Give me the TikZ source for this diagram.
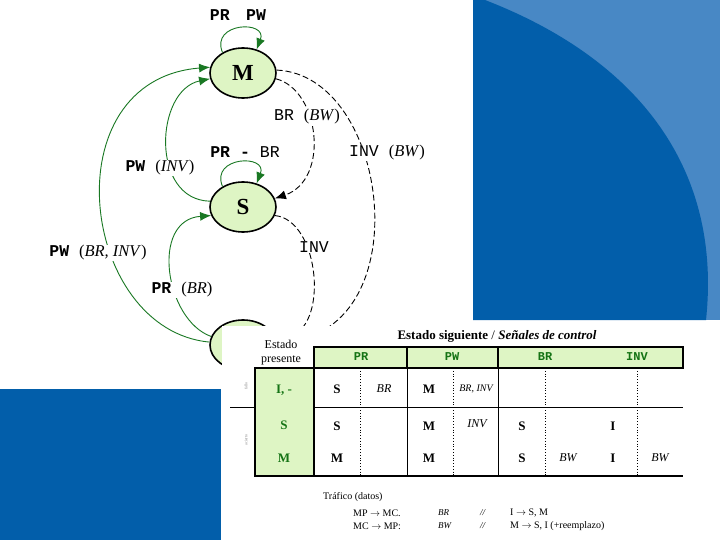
\documentclass[tikz,border=0pt]{standalone}
\usepackage{fontspec}
\setmainfont{Liberation Serif}
\setmonofont{Liberation Mono}
\usepackage{xcolor}
\usetikzlibrary{shapes.geometric, arrows.meta}
\definecolor{darkblue}{RGB}{2,94,170}
\definecolor{lightblue}{RGB}{72,136,197}
\definecolor{stategreen}{RGB}{222,245,196}
\definecolor{linegreen}{RGB}{25,120,35}
\definecolor{textgreen}{RGB}{20,115,20}

\begin{document}
\begin{tikzpicture}[x = 1pt, y = -1pt,
    state/.style = {ellipse, draw = black, line width = 1.6pt, fill = stategreen, minimum width = 66pt, minimum height = 50pt, inner sep = 0pt, font = \fontsize{23}{25}\selectfont\bfseries},
    grn/.style = {draw = linegreen, line width = 0.9pt, -{Latex[length = 11pt, width = 9pt]}},
    dsh/.style = {draw = black, line width = 0.9pt, dash pattern = on 6pt off 3pt, -{Latex[length = 11pt, width = 9pt]}},
    lbl/.style = {fill = white, inner sep = 1pt, font = \fontsize{16.5}{18}\selectfont},
    cell/.style = {inner sep = 0pt, font = \fontsize{13}{15}\selectfont\bfseries},
    sig/.style = {inner sep = 0pt, font = \fontsize{12}{14}\selectfont\itshape},
    head/.style = {inner sep = 0pt, text = textgreen, font = \fontsize{12}{14}\selectfont\ttfamily\bfseries},
    foot/.style = {anchor = west, inner sep = 0pt, font = \fontsize{10}{12}\selectfont}]
            \useasboundingbox (0,0) rectangle (720,540);
            \fill[white] (0,0) rectangle (720,540);
            \fill[lightblue] (473,0) rectangle (720,320);
            \fill[darkblue] (473,0) -- (485,0) .. controls (640,60) and (722,170) .. (706,320) -- (473,320) -- cycle;
            \fill[darkblue] (0,389) rectangle (221,540);
            \node[state] (M) at (243,73) {M};
            \node[state] (S) at (243,207) {S};
            \node[state] (I) at (243,345) {I};
            \draw[grn] (M.135) .. controls (210,22) and (268,20) .. (M.60);
            \draw[grn] (S.135) .. controls (210,156) and (268,154) .. (S.60);
            \draw[grn] (S.170) .. controls (150,200) and (155,90) .. (M.190);
            \draw[grn] (I.175) .. controls (80,330) and (50,80) .. (M.170);
            \draw[grn] (I.165) .. controls (165,320) and (150,220) .. (S.195);
            \draw[dsh] (M.-10) .. controls (320,90) and (330,180) .. (S.15);
            \draw[dsh] (M.5) .. controls (390,75) and (420,330) .. (I.5);
            \draw[dsh] (S.-15) .. controls (320,220) and (330,330) .. (I.10);
            \node[lbl] (lMM) at (238,15) {\ttfamily\bfseries PR\quad PW};
            \node[lbl] (lSS) at (245,152) {\ttfamily\bfseries PR - \mdseries BR};
            \node[lbl] (lSM) at (160,168) {\ttfamily\bfseries PW \rmfamily\mdseries (\textit{INV})};
            \node[lbl] (lIM) at (98,253) {\ttfamily\bfseries PW \rmfamily\mdseries (\textit{BR, INV})};
            \node[lbl] (lIS) at (182,290) {\ttfamily\bfseries PR \rmfamily\mdseries (\textit{BR})};
            \node[lbl] (lMS) at (307,117) {\ttfamily BR \rmfamily (\textit{BW})};
            \node[lbl] (lMI) at (387,153) {\ttfamily INV \rmfamily (\textit{BW})};
            \node[lbl] (lSI) at (314,247) {\ttfamily INV};
            \fill[white] (222,326) rectangle (720,540);
            \node[inner sep = 0pt, font = \fontsize{13}{15}\selectfont] (title) at (497,336) {\textbf{Estado siguiente} / \textbf{\textit{Señales de control}}};
            \node[inner sep = 0pt, align = center, font = \fontsize{12}{14}\selectfont] (pres) at (281,353) {Estado\\presente};
            \draw[fill = stategreen, line width = 1.5pt] (314,347) rectangle (683,368);
            \draw[fill = stategreen, line width = 1.5pt] (255,368) rectangle (314,476);
            \draw[line width = 1.5pt] (407,347) -- (407,368) (498,347) -- (498,368) (314,476) -- (683,476);
            \draw[line width = 0.8pt] (407,368) -- (407,476) (498,368) -- (498,476) (314,407) -- (683,407) (230,407) -- (255,407);
            \draw[line width = 0.8pt, dotted] (360,368) -- (360,476) (453,368) -- (453,476) (545,368) -- (545,476) (637,368) -- (637,476);
            \node[head] (hPR) at (361,357) {PR};
            \node[head] (hPW) at (452,357) {PW};
            \node[head] (hBR) at (545,357) {BR};
            \node[head] (hINV) at (637,357) {INV};
            \node[cell, text = textgreen] (pI) at (284,390) {I, -};
            \node[cell, text = textgreen] (pS) at (284,425) {S};
            \node[cell, text = textgreen] (pM) at (284,458) {M};
            \node[rotate = 90, inner sep = 0pt, text = gray, font = \fontsize{4}{5}\selectfont] (fallo) at (246,386) {fallo};
            \node[rotate = 90, inner sep = 0pt, text = gray, font = \fontsize{4}{5}\selectfont] (acierto) at (246,440) {acierto};
            \node[cell] (iPR) at (337,389) {S};
            \node[sig] (iPRs) at (384,389) {BR};
            \node[cell] (iPW) at (429,389) {M};
            \node[sig, font = \fontsize{10}{12}\selectfont\itshape] (iPWs) at (476,389) {BR, INV};
            \node[cell] (sPR) at (337,426) {S};
            \node[cell] (sPW) at (429,426) {M};
            \node[sig] (sPWs) at (477,424) {INV};
            \node[cell] (sBR) at (522,426) {S};
            \node[cell] (sINV) at (613,426) {I};
            \node[cell] (mPR) at (337,458) {M};
            \node[cell] (mPW) at (429,458) {M};
            \node[cell] (mBR) at (522,458) {S};
            \node[sig] (mBRs) at (568,458) {BW};
            \node[cell] (mINV) at (613,458) {I};
            \node[sig] (mINVs) at (660,458) {BW};
            \node[foot] (traf) at (323,497) {Tráfico (datos)};
            \node[foot] (a1) at (353,513) {MP $\rightarrow$ MC.};
            \node[foot, font = \fontsize{9}{11}\selectfont\itshape] (b1) at (438,513) {BR};
            \node[foot, font = \fontsize{9}{11}\selectfont\itshape] (c1) at (480,513) {//};
            \node[foot] (d1) at (510,513) {I $\rightarrow$ S, M};
            \node[foot] (a2) at (353,526) {MC $\rightarrow$ MP:};
            \node[foot, font = \fontsize{9}{11}\selectfont\itshape] (b2) at (438,526) {BW};
            \node[foot, font = \fontsize{9}{11}\selectfont\itshape] (c2) at (480,526) {//};
            \node[foot] (d2) at (510,526) {M $\rightarrow$ S, I (+reemplazo)};
        \end{tikzpicture}
\end{document}
